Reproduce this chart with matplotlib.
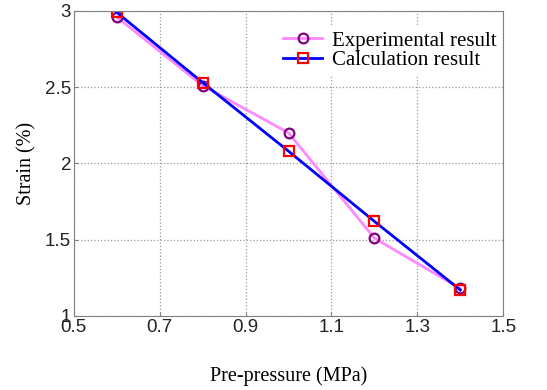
import numpy as np
import matplotlib
matplotlib.use('Agg')
import matplotlib.pyplot as plt

# data
pressure = [0.6, 0.8, 1.0, 1.2, 1.4]
strain_exp = [2.96, 2.51, 2.20, 1.51, 1.18]
strain_calc = [2.99, 2.53, 2.08, 1.62, 1.17]

xticks = [0.5, 0.7, 0.9, 1.1, 1.3, 1.5]
yticks = [1, 1.5, 2, 2.5, 3]

fig = plt.figure(figsize=(5.47, 3.90), dpi=100)
ax = fig.add_axes([0.135, 0.19, 0.785, 0.782])

ax.plot(pressure, strain_exp, color='#ff88ff', lw=2, marker='o', ms=7,
        mfc='none', mec='#800080', mew=1.6, label='Experimental result')
ax.plot(pressure, strain_calc, color='#0000ff', lw=2, marker='s', ms=7,
        mfc='none', mec='#ff0000', mew=1.6, label='Calculation result')

ax.set_xlim(0.5, 1.5)
ax.set_ylim(1, 3)
ax.set_xticks(xticks)
ax.set_yticks(yticks)
ax.set_xticklabels([str(v) for v in xticks], fontfamily='Liberation Sans', fontsize=13.5)
ax.set_yticklabels(['1', '1.5', '2', '2.5', '3'], fontfamily='Liberation Sans', fontsize=13.5)
ax.grid(True, ls=':', color='#999999', lw=0.9)
ax.tick_params(direction='in', color='#808080', length=3, pad=2, colors='#222222')
for s in ax.spines.values():
    s.set_color('#808080')

ax.set_xlabel('Pre-pressure (MPa)', fontfamily='Liberation Serif', fontsize=14.5, labelpad=22)
ax.set_ylabel('Strain (%)', fontfamily='Liberation Serif', fontsize=14.5, labelpad=6)

leg = ax.legend(loc='upper right', bbox_to_anchor=(1.018, 0.982), frameon=True,
                prop={'family': 'Liberation Serif', 'size': 15},
                handlelength=1.9, borderpad=0.2, labelspacing=0.0, handletextpad=0.45)
leg.get_frame().set_edgecolor('white')
leg.get_frame().set_facecolor('white')
leg.get_frame().set_alpha(1)

fig.savefig('out.png', dpi=100)
